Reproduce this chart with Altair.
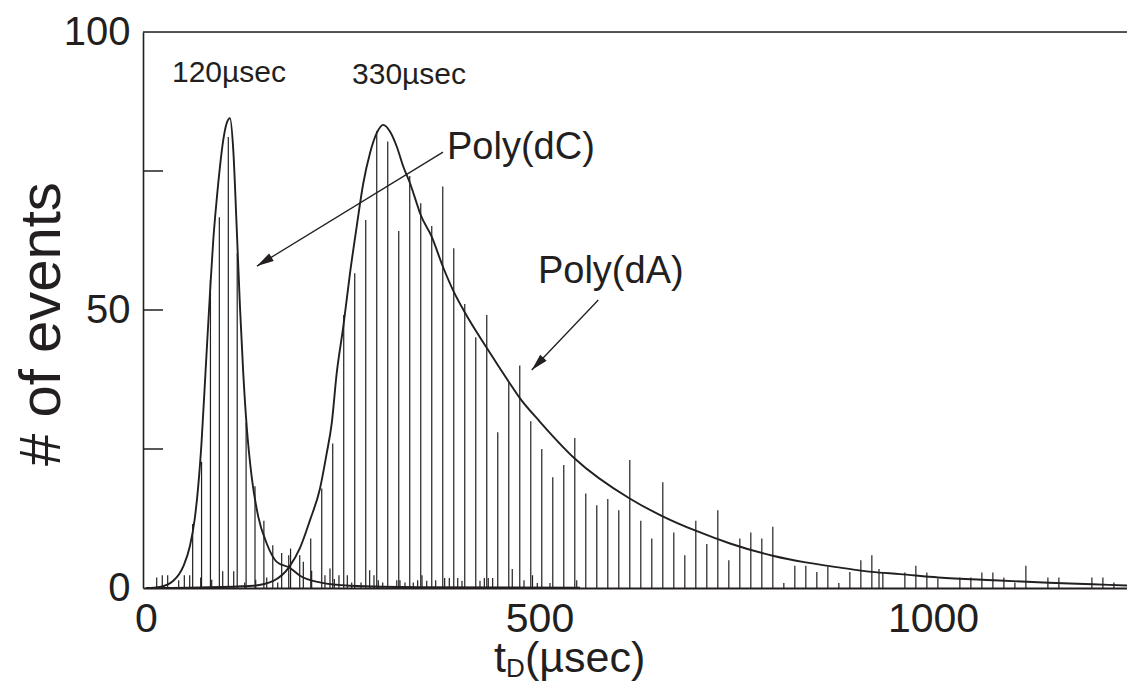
import altair as alt
import pandas as pd

# ---------------- data ----------------
# fitted Poly(dC) curve (t in microseconds, number of events)
DC_CURVE_T = [0, 17.8, 34.7, 47.4, 55.9, 62.0, 66.5, 70.5, 75.5, 81.5, 85.5, 89.8, 94.0, 98.2,
              102.5, 106.7, 110.9, 115.2, 119.4, 123.6, 128.0, 134.3, 142.7, 153.4, 166.1,
              183.0, 195.7, 221.1, 259.2, 348.2, 551.5]
DC_CURVE_N = [0, 0.2, 1.3, 3.9, 7.6, 12.5, 18.5, 26.0, 38.5, 53.5, 62.6, 69.8, 75.8, 80.6,
              83.6, 84.5, 78.8, 65.0, 50.6, 38.6, 29.0, 20.0, 12.8, 8.0, 4.7,
              3.6, 2.2, 1.0, 0.4, 0.15, 0.05]

# fitted Poly(dA) curve
DA_CURVE_T = [0, 68.6, 132.1, 161.8, 182.1, 195.7, 208.4, 221.1, 229.6, 236.0, 242.3, 250.7,
              259.2, 267.7, 276.1, 284.6, 293.1, 301.5, 310.0, 318.6, 326.9, 335.5, 344.0,
              348.2, 363.0, 377.8, 390.7, 405.0, 432.9, 460.9, 474.8, 500.6, 544.7, 614.6,
              656.5, 698.5, 742.1, 796.3, 838.2, 880.2, 922.1, 958.1, 1006.7, 1076.6,
              1147.0, 1203.0, 1246.5]
DA_CURVE_N = [0, 0.1, 0.36, 1.3, 3.8, 7.2, 12.2, 17.9, 24.2, 29.6, 38.6, 47.0,
              56.6, 65.0, 72.8, 78.2, 81.8, 83.3, 82.1, 79.4, 75.8, 72.8, 69.2,
              67.4, 63.2, 57.6, 53.4, 49.6, 43.2, 37.1, 34.2, 29.9, 23.3, 16.1,
              12.9, 10.3, 8.0, 5.8, 4.6, 3.7, 2.9, 2.5, 1.9, 1.4,
              0.95, 0.67, 0.45]

# histogram of dC events (tall spikes around 120 usec)
DC_T = [59.3, 70.6, 81.9, 93.2, 104.6, 115.9, 127.2, 138.5, 149.8, 161.1, 172.4, 183.7]
DC_N = [11.5, 22.7, 55.4, 66.7, 81.1, 60.2, 29.7, 18.3, 12.1, 7.7, 6.3, 7.1]

# histogram of dA events (regular bins)
DA_BIN_START = 13.6
DA_BIN_WIDTH = 13.98
DA_N = [1.9, 2.3, 1.4, 2.3, 1.9, 1.5, 3.0, 3.0, 1.0, 1.5, 1.9, 1.0, 5.9, 5.9, 8.9,
        17.9, 26.0, 49.1, 56.6, 66.2, 82.2, 80.3, 64.2, 74.1, 69.2, 65.1, 72.2, 61.1,
        51.1, 45.1, 49.1, 28.0, 36.9, 40.0, 30.0, 25.0, 19.9, 22.1, 27.0, 17.0, 14.9,
        16.0, 14.0, 23.0, 12.1, 8.9, 19.0, 10.0, 5.9, 12.1, 7.9, 14.0, 5.0, 8.9, 10.0,
        8.9, 11.0, 0.9, 4.0, 4.0, 2.9, 3.8, 0.9, 2.9, 5.0, 5.9, 2.9, 0, 2.8, 4.0, 2.8,
        1.7, 0, 1.9, 1.9, 2.8, 2.8, 1.9, 1.0, 4.0, 0, 1.9, 1.9, 0, 0, 1.9, 1.9, 1.0, 0]

# small counts close to the baseline
MINOR_T = [20.7, 48.7, 199.9, 210.5, 227.4, 233.8, 239.3, 245.2, 255.8, 261.4, 273.2,
           284.2, 289.7, 295.2, 300.8, 318.6, 322.7, 329.1, 339.6, 345.2, 350.7, 356.7,
           368.1, 379.5, 385.4, 396.1, 401.5, 424.4, 429.9, 434.9, 440.5, 465.4, 480.3,
           491.1, 497.2, 513.3, 547.3, 931.4]
MINOR_N = [2.3, 2.3, 4.7, 3.1, 2.3, 3.5, 1.6, 2.3, 2.3, 1.0, 1.0,
           3.2, 2.3, 1.4, 1.0, 1.4, 1.4, 1.0, 1.0, 1.4, 2.3, 1.3,
           1.4, 1.8, 1.8, 1.8, 1.3, 1.3, 1.8, 1.8, 1.8, 3.4, 1.4,
           2.3, 0.9, 0.9, 1.4, 3.4]

X_TICKS = [0, 500, 1000]
Y_TICKS = [0, 50, 100]
Y_MINOR = [25, 50, 75]

# ---------------- styling ----------------
INK = "#231f20"
FONT = "Liberation Sans"
W, H = 984, 556
xs = alt.Scale(domain=[-3.8, 1246.5], nice=False, zero=False)
ys = alt.Scale(domain=[0, 100], nice=False, zero=False)

AX_X = alt.Axis(values=X_TICKS, format="d", ticks=False, grid=False, title=None,
                labelFontSize=41, labelFont=FONT, labelColor=INK, labelPadding=11,
                domainColor=INK, domainWidth=2.2, labelFlush=False)
AX_Y = alt.Axis(values=Y_TICKS, format="d", ticks=False, grid=False, title=None,
                labelFontSize=40, labelFont=FONT, labelColor=INK, labelPadding=13,
                domainColor=INK, domainWidth=1.6, labelFlush=False)


def X(field="t"):
    return alt.X(f"{field}:Q", scale=xs, axis=AX_X)


def Y(field="n"):
    return alt.Y(f"{field}:Q", scale=ys, axis=AX_Y)


da_t = [DA_BIN_START + DA_BIN_WIDTH * k for k in range(len(DA_N))]
spk = pd.DataFrame({"t": da_t + DC_T + MINOR_T, "n": DA_N + DC_N + MINOR_N})
spk = spk[spk["n"] > 0]

curves = pd.concat([
    pd.DataFrame({"t": DC_CURVE_T, "n": DC_CURVE_N, "c": "dC"}),
    pd.DataFrame({"t": DA_CURVE_T, "n": DA_CURVE_N, "c": "dA"}),
])

ONE = pd.DataFrame({"a": [0]})

spikes = alt.Chart(spk).mark_rule(color=INK, strokeWidth=1.2).encode(
    x=X(), y=Y(), y2=alt.datum(0))

fits = alt.Chart(curves).mark_line(color=INK, strokeWidth=1.9, interpolate="monotone").encode(
    x=X(), y=Y(), detail="c:N")

top = alt.Chart(pd.DataFrame({"n": [100]})).mark_rule(color=INK, strokeWidth=1.6).encode(
    y=Y(), x=alt.value(0), x2=alt.value(W))

yticks = alt.Chart(pd.DataFrame({"n": Y_MINOR})).mark_rule(color=INK, strokeWidth=1.5).encode(
    y=Y(), x=alt.value(0), x2=alt.value(20))


def label(text, t, v, size):
    return alt.Chart(ONE).mark_text(text=text, fontSize=size, font=FONT, color=INK,
                                    align="left", baseline="alphabetic").encode(
        x=alt.datum(t), y=alt.datum(v))


def arrow(t1, v1, t2, v2, ang):
    line = alt.Chart(ONE).mark_rule(color=INK, strokeWidth=1.3).encode(
        x=alt.datum(t1), y=alt.datum(v1), x2=alt.datum(t2), y2=alt.datum(v2))
    head = alt.Chart(ONE).mark_point(shape="M0,0L-0.26,1L0.26,1Z", filled=True, color=INK,
                                     opacity=1, size=1156, angle=ang, strokeWidth=0).encode(
        x=alt.datum(t2), y=alt.datum(v2))
    return [line, head]


def ptext(text, px, py, size, angle=0, align="left", baseline="alphabetic"):
    return alt.Chart(ONE).mark_text(text=text, fontSize=size, font=FONT, color=INK,
                                    align=align, baseline=baseline, angle=angle).encode(
        x=alt.value(px), y=alt.value(py))


layers = [spikes, fits, top, yticks,
          label("120µsec", 33.0, 91.0, 30),
          label("330µsec", 261.8, 90.6, 30),
          label("Poly(dC)", 382.5, 77.2, 38),
          label("Poly(dA)", 498.0, 54.9, 38)]
layers += arrow(377.4, 78.4, 141.0, 57.9, 238.5)
layers += arrow(574.7, 51.8, 490.1, 39.2, 223.5)
layers += [
    ptext("# of events", -100, 292, 58, angle=270, align="center", baseline="middle"),
    ptext("t", 351, 640, 43),
    ptext("D", 363, 645, 26),
    ptext("(µsec)", 382, 640, 43),
]

chart = alt.layer(*layers).properties(
    width=W, height=H,
    padding={"left": 135, "top": 24, "right": 0, "bottom": 94},
    autosize=alt.AutoSizeParams(type="none"),
).configure_view(stroke=None).configure(background="white")

chart.save("out.html", embed_options={"renderer": "svg", "actions": False})
